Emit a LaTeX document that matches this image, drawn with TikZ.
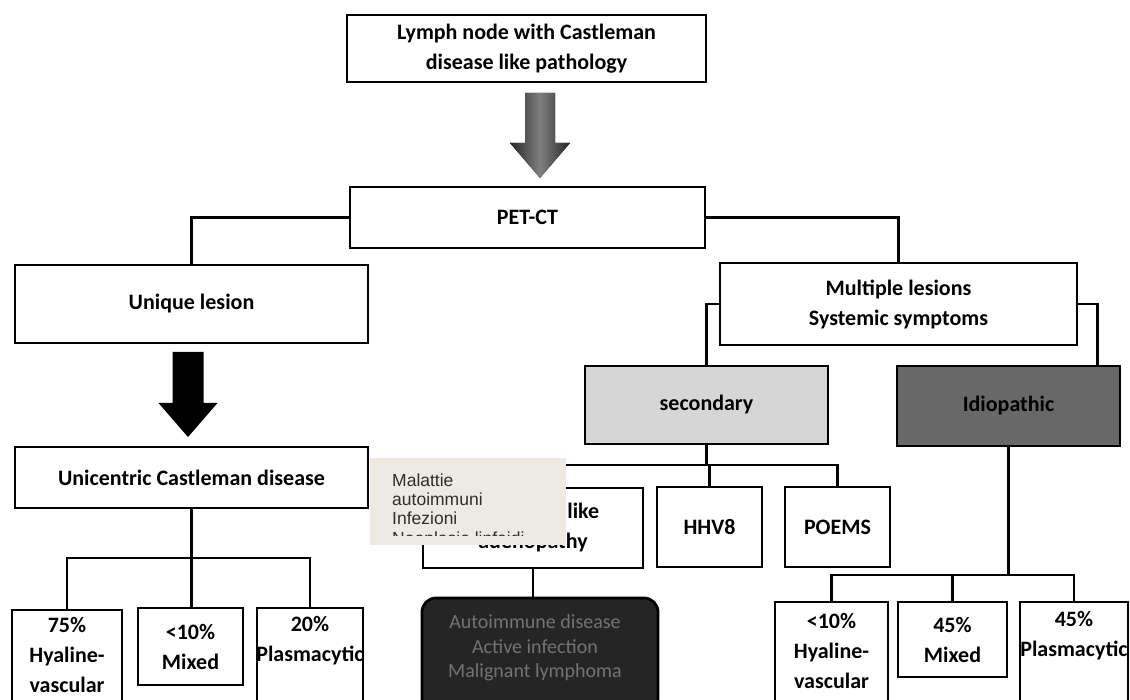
\documentclass[tikz,border=0pt]{standalone}
\usepackage{fontspec}
\setmainfont{Carlito}
\newfontfamily\notefont{Liberation Sans}
\newcommand\diagfont{\bfseries\fontsize{22}{30}\selectfont}
\definecolor{secfill}{HTML}{D6D6D6}
\definecolor{idiofill}{HTML}{686868}
\definecolor{darkfill}{HTML}{252525}
\definecolor{notebg}{HTML}{ECEAE2}
\definecolor{notetext}{HTML}{2E2E2E}
\begin{document}
\begin{tikzpicture}[x=1pt,y=-1pt,
  box/.style={draw=black, line width=2.8pt, fill=white, inner sep=2pt,
    align=center, font=\diagfont, text=black},
  txt/.style={inner sep=0pt, align=center, font=\diagfont, text=black},
  conn/.style={draw=black, line width=2.8pt},
  notebox/.style={fill=notebg, draw=none, inner sep=0pt},
  notetxt/.style={inner sep=0pt, align=left, text=notetext,
    font=\notefont\fontsize{17.5}{19.3}\selectfont}]
\useasboundingbox (0,0) rectangle (1130,700);
\clip (0,0) rectangle (1130,700);

% ---- top of the tree
\node[box, minimum width=359pt, minimum height=67pt] (top) at (526.5,48.5)
  {Lymph node with Castleman\\disease like pathology};
\node[box, minimum width=355pt, minimum height=61pt] (pet) at (527.5,217.5) {PET-CT};

% grey block arrow from the pathology box to PET-CT
\fill[left color=black!85, right color=black!85, middle color=black!50]
  (525,93) -- (555,93) -- (555,143) -- (570,143) -- (540,178)
  -- (510,143) -- (525,143) -- cycle;

% ---- unicentric branch
\node[box, minimum width=353pt, minimum height=78pt] (unique) at (191.5,304) {Unique lesion};
\node[box, minimum width=353pt, minimum height=61pt] (unic) at (191.5,477.5)
  {Unicentric Castleman disease};
\fill[black] (172.5,352) -- (203.5,352) -- (203.5,403) -- (217.5,403) -- (188,437)
  -- (158.5,403) -- (172.5,403) -- cycle;

\node[box, minimum width=110pt, minimum height=100pt] (b1) at (67,660) {};
\node[txt] (b1t) at (67,655) {75\%\\Hyaline-\\vascular};
\node[box, minimum width=105pt, minimum height=77pt] (b2) at (190.5,646.5)
  {<10\%\\Mixed};
\node[box, minimum width=106pt, minimum height=102pt] (b3) at (310,659) {};
\node[txt] (b3t) at (310,641) {20\%\\Plasmacytic};

\draw[conn] (pet.west) -| (unique.north);
\coordinate (ubus) at (191.5,558);
\draw[conn] (unic.south) -- (unic.south |- b2.north);
\draw[conn] (b1.north) |- (ubus) -| (b3.north);

% ---- multicentric branch
\node[box, minimum width=357pt, minimum height=82pt] (multi) at (898.5,304)
  {Multiple lesions\\Systemic symptoms};
\node[box, fill=secfill, minimum width=243pt, minimum height=78pt] (sec) at (706.5,405)
  {secondary};
\node[box, fill=idiofill, minimum width=223pt, minimum height=80pt] (idio) at (1008.5,406)
  {Idiopathic};

\draw[conn] (pet.east) -| (multi.north);
\draw[conn] (multi.west) -| (sec.north);
\draw[conn] (multi.east) -| ([xshift=-24pt]idio.north east);

% secondary forms
\node[box, minimum width=220pt, minimum height=80pt] (like) at (533,528)
  {Castleman like\\adenopathy};
\node[box, minimum width=105pt, minimum height=80pt] (hhv8) at (709.5,527) {HHV8};
\node[box, minimum width=105pt, minimum height=80pt] (poems) at (837.5,527) {POEMS};
\node[box, fill=darkfill, rounded corners=14pt, minimum width=236pt,
  minimum height=114pt] (dark) at (540,655) {};
\node[txt, font=\fontsize{20}{24.5}\selectfont, text=black!55] (darkt) at (535,648)
  {Autoimmune disease\\Active infection\\Malignant lymphoma};

\coordinate (sbus) at (706.5,465);
\draw[conn] (sec.south) -- (sbus);
\draw[conn] (like.north) |- (sbus) -| (poems.north);
\draw[conn] (hhv8.north) -- (hhv8.north |- sbus);
\draw[conn] (like.south) -- (like.south |- dark.north);

% idiopathic forms
\node[box, minimum width=113pt, minimum height=110pt] (r1) at (831.5,657) {};
\node[txt] (r1t) at (831.5,651) {<10\%\\Hyaline-\\vascular};
\node[box, minimum width=109pt, minimum height=75pt] (r2) at (952.5,639.5) {45\%\\Mixed};
\node[box, minimum width=108pt, minimum height=110pt] (r3) at (1074,657) {};
\node[txt] (r3t) at (1074,636) {45\%\\Plasmacytic};

\coordinate (ibus) at (1008.5,575);
\draw[conn] (idio.south) -- (ibus);
\draw[conn] (r1.north) |- (ibus) -| (r3.north);
\draw[conn] (r2.north) -- (r2.north |- ibus);

% ---- note card laid over the secondary branch; its text box shows three lines
\node[notebox, minimum width=196pt, minimum height=87pt] (note) at (468,501.5) {};
\begin{scope}
  \clip (370,458) rectangle (566,535.5);
  \node[notetxt, anchor=north west] (notet) at (392,473.4)
    {Malattie\\autoimmuni\\Infezioni\\Neoplasie linfoidi};
\end{scope}
\end{tikzpicture}
\end{document}
